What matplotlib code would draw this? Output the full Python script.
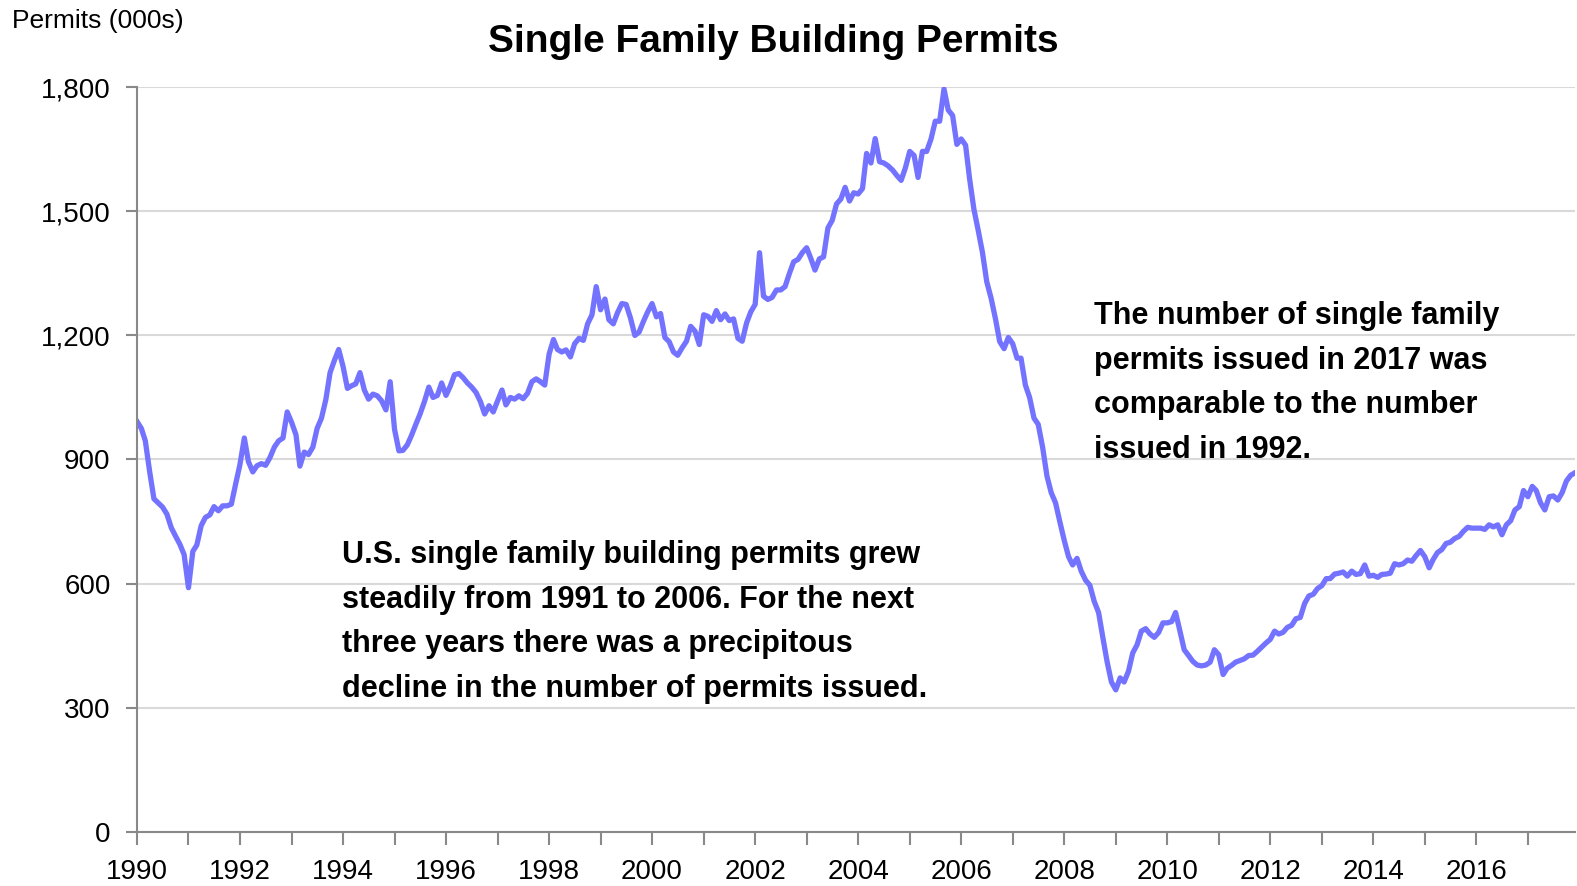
import pandas as pd
import matplotlib.pyplot as plt
from matplotlib.ticker import FuncFormatter

plt.rcParams['font.family'] = ['Liberation Sans', 'DejaVu Sans']

# monthly single family permits (thousands, SAAR), Jan 1990 - Dec 2017
months = pd.date_range('1990-01-01', periods=336, freq='MS')
permits = [
    992, 975, 945, 870, 805, 795, 785, 768, 735, 715, 695, 670,            # 1990
    590, 678, 693, 740, 760, 766, 786, 776, 788, 788, 792, 840,            # 1991
    888, 952, 895, 870, 885, 890, 886, 905, 930, 945, 952, 1015,           # 1992
    990, 960, 884, 918, 912, 930, 975, 1000, 1045, 1110, 1140, 1166,       # 1993
    1125, 1072, 1078, 1083, 1110, 1068, 1046, 1058, 1054, 1042, 1020, 1088,  # 1994
    973, 921, 922, 935, 958, 985, 1010, 1040, 1075, 1050, 1055, 1085,      # 1995
    1055, 1078, 1105, 1108, 1098, 1085, 1075, 1062, 1040, 1010, 1030, 1015,  # 1996
    1042, 1068, 1032, 1050, 1046, 1054, 1047, 1060, 1088, 1095, 1088, 1080,  # 1997
    1155, 1190, 1166, 1160, 1165, 1148, 1180, 1193, 1188, 1228, 1250, 1318,  # 1998
    1262, 1288, 1238, 1228, 1255, 1277, 1275, 1242, 1200, 1208, 1234, 1257,  # 1999
    1277, 1245, 1253, 1195, 1185, 1160, 1152, 1170, 1186, 1222, 1210, 1178,  # 2000
    1250, 1246, 1234, 1260, 1238, 1252, 1236, 1240, 1193, 1186, 1230, 1257,  # 2001
    1275, 1400, 1295, 1287, 1292, 1310, 1310, 1318, 1350, 1378, 1384, 1400,  # 2002
    1412, 1385, 1358, 1385, 1390, 1460, 1478, 1518, 1530, 1558, 1525, 1545,  # 2003
    1542, 1555, 1640, 1617, 1676, 1620, 1617, 1610, 1600, 1587, 1575, 1605,  # 2004
    1645, 1635, 1582, 1645, 1645, 1675, 1718, 1718, 1796, 1745, 1732, 1662,  # 2005
    1675, 1660, 1580, 1505, 1455, 1400, 1330, 1290, 1240, 1185, 1168, 1195,  # 2006
    1180, 1145, 1145, 1080, 1050, 1000, 985, 930, 860, 820, 795, 750,      # 2007
    705, 665, 645, 661, 630, 608, 596, 557, 530, 470, 410, 362,            # 2008
    343, 372, 362, 388, 432, 452, 485, 491, 478, 470, 482, 505,            # 2009
    505, 508, 530, 485, 440, 426, 412, 403, 401, 403, 410, 440,            # 2010
    428, 380, 395, 402, 410, 414, 418, 426, 427, 436, 446, 456,            # 2011
    465, 485, 478, 482, 494, 499, 515, 518, 552, 570, 574, 588,            # 2012
    595, 612, 612, 623, 625, 628, 618, 630, 622, 624, 645, 618,            # 2013
    620, 615, 622, 623, 625, 648, 645, 648, 657, 654, 668, 680,            # 2014
    665, 638, 658, 675, 682, 697, 700, 709, 714, 726, 736, 734,            # 2015
    734, 734, 731, 742, 737, 742, 718, 742, 752, 778, 786, 825,            # 2016
    810, 835, 825, 795, 778, 810, 812, 802, 820, 848, 862, 868,            # 2017
]
year_ticks = pd.date_range('1990-01-01', '2017-01-01', freq='YS')
y_ticks = [0, 300, 600, 900, 1200, 1500, 1800]

W, H = 1577, 886
fig = plt.figure(figsize=(W / 100, H / 100), dpi=100)
ax = fig.add_axes([137 / W, 1 - 831.7 / H, (1575 - 137) / W, (831.7 - 87.3) / H])

ax.plot(months, permits, color='#7373FF', lw=3.8, solid_joinstyle='round')

ax.set_ylim(0, 1800)
ax.set_xlim(months[0], months[-1])
ax.set_yticks(y_ticks)
ax.yaxis.set_major_formatter(FuncFormatter(lambda v, p: f'{int(v):,}'))
ax.set_xticks(year_ticks)
ax.set_xticklabels([str(d.year) if d.year % 2 == 0 else '' for d in year_ticks])

ax.grid(axis='y', color='#D9D9D9', lw=1.5)
ax.set_axisbelow(True)
for s in ['top', 'right']:
    ax.spines[s].set_visible(False)
for s in ['left', 'bottom']:
    ax.spines[s].set_color('#898989')
    ax.spines[s].set_linewidth(1.5)
ax.tick_params(axis='both', colors='#898989', width=1.5, length=9, labelsize=20,
               labelcolor='black')
ax.tick_params(axis='x', pad=11)
ax.tick_params(axis='y', length=8, pad=11)

fig.text(12 / W, 1 - 21 / H, 'Permits (000s)', fontsize=19, va='center', ha='left')
fig.text(773 / W, 1 - 42 / H, 'Single Family Building Permits', fontsize=28,
         fontweight='bold', ha='center', va='center')

fig.text(342 / W, 1 - 540 / H,
         'U.S. single family building permits grew\n'
         'steadily from 1991 to 2006. For the next\n'
         'three years there was a precipitous\n'
         'decline in the number of permits issued.',
         fontsize=22, fontweight='bold', ha='left', va='top', linespacing=1.64)
fig.text(1094 / W, 1 - 301 / H,
         'The number of single family\n'
         'permits issued in 2017 was\n'
         'comparable to the number\n'
         'issued in 1992.',
         fontsize=22, fontweight='bold', ha='left', va='top', linespacing=1.64)

fig.savefig('out.png', dpi=100)
